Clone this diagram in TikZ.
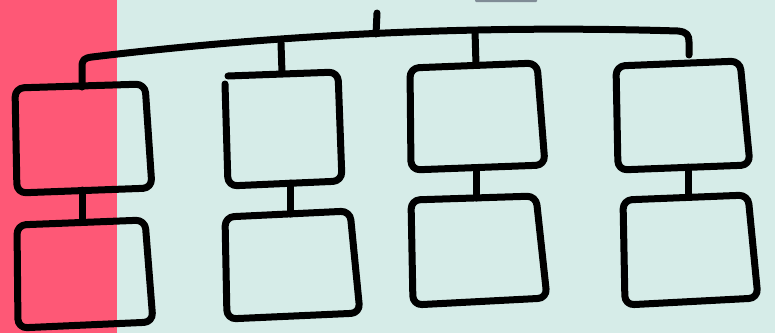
\documentclass[tikz,border=0pt]{standalone}
\usepackage{xcolor, tikz}
\definecolor{stripred}{RGB}{254,88,118}
\definecolor{mint}{RGB}{214,236,232}
\definecolor{slate}{RGB}{128,140,150}
\tikzset{hand/.style={line width=7pt, line cap=round, line join=round, rounded corners=9pt}}
\tikzset{handline/.style={line width=7pt, line cap=round}}

\begin{document}
\begin{tikzpicture}[x=1pt, y=-1pt]
    \useasboundingbox (0, 0) rectangle (775, 333);
    \fill[mint] (0, 0) rectangle (775, 333);
    \fill[stripred] (0, 0) rectangle (117, 333);
    \fill[slate, rounded corners=1pt] (475, -2) rectangle (537, 2);

    \draw[hand] (15, 88) -- (145, 84) -- (152, 188) -- (17, 193) -- cycle;
    \draw[hand] (17, 225) -- (145, 220) -- (153, 322) -- (18, 328) -- cycle;
    \draw[hand] (225, 84) -- (228, 186) -- (342, 181) -- (338, 72) -- (228, 76);
    \draw[hand] (225, 217) -- (350, 211) -- (360, 313) -- (227, 319) -- cycle;
    \draw[hand] (410, 68) -- (537, 63) -- (545, 165) -- (411, 170) -- cycle;
    \draw[hand] (411, 200) -- (536, 196) -- (547, 298) -- (413, 305) -- cycle;
    \draw[hand] (616, 66) -- (740, 61) -- (750, 165) -- (618, 170) -- cycle;
    \draw[hand] (623, 200) -- (748, 195) -- (758, 298) -- (625, 305) -- cycle;

    \coordinate (t1n) at (82, 87);
    \coordinate (t1s) at (82, 190);
    \coordinate (b1n) at (82, 222);
    \coordinate (t2n) at (282, 73);
    \coordinate (t2s) at (290, 183);
    \coordinate (b2n) at (290, 214);
    \coordinate (t3n) at (476, 65);
    \coordinate (t3s) at (476, 168);
    \coordinate (b3n) at (476, 198);
    \coordinate (t4s) at (688, 167);
    \coordinate (b4n) at (688, 197);

    \coordinate (j1) at (376, 34);
    \coordinate (j2) at (281, 43);
    \coordinate (j3) at (475, 31);
    \coordinate (top) at (377, 13);
    \coordinate (end4) at (689, 55);

    \draw[handline, line join=round] (t1n) -- (82, 67) .. controls (82, 60) and (84, 58) .. (92, 57)
        .. controls (250, 38) and (450, 24) .. (678, 31)
        .. controls (687, 32) and (689, 35) .. (689, 42) -- (end4);

    \draw[handline] (top) -- (j1);
    \draw[handline] (j2) -- (t2n);
    \draw[handline] (j3) -- (t3n);

    \draw[handline] (t1s) -- (b1n);
    \draw[handline] (t2s) -- (b2n);
    \draw[handline] (t3s) -- (b3n);
    \draw[handline] (t4s) -- (b4n);
\end{tikzpicture}
\end{document}
